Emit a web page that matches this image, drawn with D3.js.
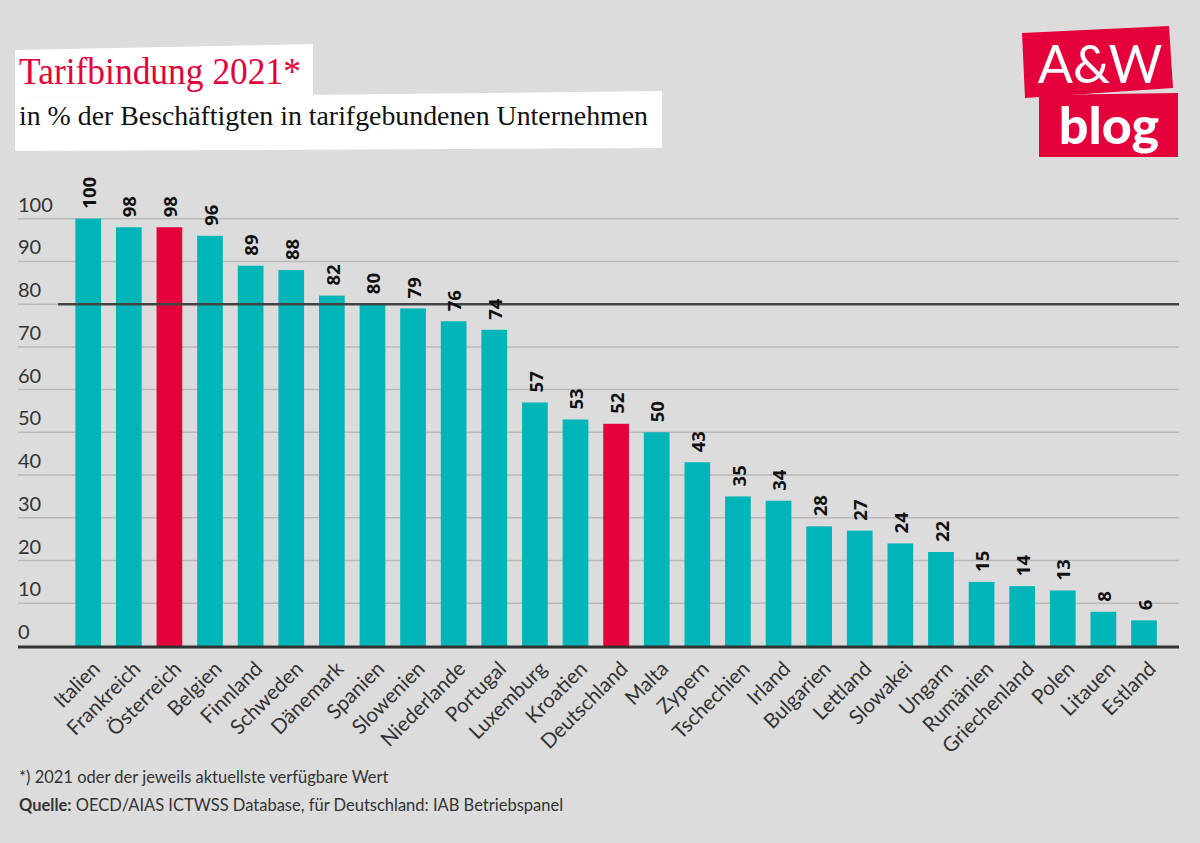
<!DOCTYPE html>
<html lang="de">
<head>
<meta charset="UTF-8">
<title>Tarifbindung 2021</title>
<script src="https://cdn.jsdelivr.net/npm/d3@7"></script>
<style>
  * { margin: 0; padding: 0; box-sizing: border-box; }
  body { background: #dcdcdc; }
  svg { display: block; }
</style>
</head>
<body>
<svg width="1200" height="843"></svg>
<script>
  var categories = ["Italien", "Frankreich", "Österreich", "Belgien", "Finnland", "Schweden", "Dänemark",
    "Spanien", "Slowenien", "Niederlande", "Portugal", "Luxemburg", "Kroatien", "Deutschland", "Malta",
    "Zypern", "Tschechien", "Irland", "Bulgarien", "Lettland", "Slowakei", "Ungarn", "Rumänien",
    "Griechenland", "Polen", "Litauen", "Estland"];
  var values = [100, 98, 98, 96, 89, 88, 82, 80, 79, 76, 74, 57, 53, 52, 50, 43, 35, 34, 28, 27, 24, 22, 15, 14, 13, 8, 6];
  var highlighted = ["Österreich", "Deutschland"];
  var yTicks = [0, 10, 20, 30, 40, 50, 60, 70, 80, 90, 100];
  var refValue = 80;

  var teal = "#00b5b8", red = "#e4003b", textCol = "#333";

  var svg = d3.select("svg");

  // Kopf: weiße Kästen mit Titel
  svg.append("polygon").attr("points", "15,50 313,44 313,96 15,98").attr("fill", "#fff");
  svg.append("polygon").attr("points", "15,98 662,91 662,148 15,151").attr("fill", "#fff");
  svg.append("text").attr("x", 19).attr("y", 84)
    .attr("font-family", "Liberation Serif").attr("font-size", 37)
    .attr("textLength", 282).attr("lengthAdjust", "spacingAndGlyphs")
    .attr("fill", red).text("Tarifbindung 2021*");
  svg.append("text").attr("x", 19).attr("y", 125)
    .attr("font-family", "Liberation Serif").attr("font-size", 28)
    .attr("textLength", 629).attr("lengthAdjust", "spacingAndGlyphs")
    .attr("fill", "#111").text("in % der Beschäftigten in tarifgebundenen Unternehmen");

  // Logo
  svg.append("polygon").attr("points", "1022,33 1169,26 1173,88 1025,98").attr("fill", red);
  svg.append("polygon").attr("points", "1039,95 1178,93 1178,157 1039,157").attr("fill", red);
  svg.append("text").attr("x", 1100).attr("y", 83).attr("text-anchor", "middle")
    .attr("font-family", "Lato").attr("font-weight", 400).attr("font-size", 52)
    .attr("fill", "#fff").text("A&W");
  svg.append("text").attr("x", 1109).attr("y", 144).attr("text-anchor", "middle")
    .attr("font-family", "Lato").attr("font-weight", 900).attr("font-size", 52)
    .attr("fill", "#fff").text("blog");

  // Skalen
  var x = d3.scaleBand().domain(categories).range([67.9, 1164.3])
    .paddingInner(0.367).paddingOuter(0.1835);
  var y = d3.scaleLinear().domain([0, 100]).range([646, 218.7]);

  var left = 18, right = 1179;

  // Gitterlinien
  svg.append("g").selectAll("line").data(yTicks.filter(function (d) { return d > 0; }))
    .enter().append("line")
    .attr("x1", left).attr("x2", right)
    .attr("y1", function (d) { return y(d); }).attr("y2", function (d) { return y(d); })
    .attr("stroke", "#b9b9b9").attr("stroke-width", 1.5);

  // y-Beschriftung
  svg.append("g").selectAll("text").data(yTicks).enter().append("text")
    .attr("x", left).attr("y", function (d) { return y(d) - 7; })
    .attr("font-family", "Lato").attr("font-size", 20).attr("fill", textCol)
    .text(function (d) { return d; });

  // Balken
  svg.append("g").selectAll("rect").data(values).enter().append("rect")
    .attr("x", function (d, i) { return x(categories[i]); })
    .attr("width", x.bandwidth())
    .attr("y", function (d) { return y(d); })
    .attr("height", function (d) { return y(0) - y(d); })
    .attr("fill", function (d, i) { return highlighted.indexOf(categories[i]) >= 0 ? red : teal; });

  // 80%-Linie
  svg.append("line").attr("x1", 58).attr("x2", right)
    .attr("y1", y(refValue)).attr("y2", y(refValue))
    .attr("stroke", "#444").attr("stroke-width", 2.5);

  // Grundlinie
  svg.append("line").attr("x1", left).attr("x2", right)
    .attr("y1", y(0) + 1).attr("y2", y(0) + 1)
    .attr("stroke", "#333").attr("stroke-width", 3);

  // Werte
  svg.append("g").selectAll("text").data(values).enter().append("text")
    .attr("transform", function (d, i) {
      return "translate(" + (x(categories[i]) + x.bandwidth() / 2 + 1) + "," + (y(d) - 10) + ") rotate(-90)";
    })
    .attr("dy", "0.36em")
    .attr("font-family", "Noto Sans").attr("font-weight", 700).attr("font-size", 18.5)
    .attr("fill", "#111")
    .text(function (d) { return d; });

  // Länder
  svg.append("g").selectAll("text").data(categories).enter().append("text")
    .attr("transform", function (d) {
      return "translate(" + (x(d) + x.bandwidth() / 2 + 8) + ",665) rotate(-45)";
    })
    .attr("text-anchor", "end")
    .attr("dy", "0.35em")
    .attr("font-family", "Lato").attr("font-size", 20.5).attr("fill", textCol)
    .text(function (d) { return d; });

  // Fußnoten
  svg.append("text").attr("x", 19).attr("y", 783)
    .attr("font-family", "Lato").attr("font-size", 16.5).attr("fill", textCol)
    .text("*) 2021 oder der jeweils aktuellste verfügbare Wert");
  var q = svg.append("text").attr("x", 19).attr("y", 811)
    .attr("font-family", "Lato").attr("font-size", 16.5).attr("fill", textCol);
  q.append("tspan").attr("font-weight", 700).text("Quelle:");
  q.append("tspan").text(" OECD/AIAS ICTWSS Database, für Deutschland: IAB Betriebspanel");
</script>
</body>
</html>
